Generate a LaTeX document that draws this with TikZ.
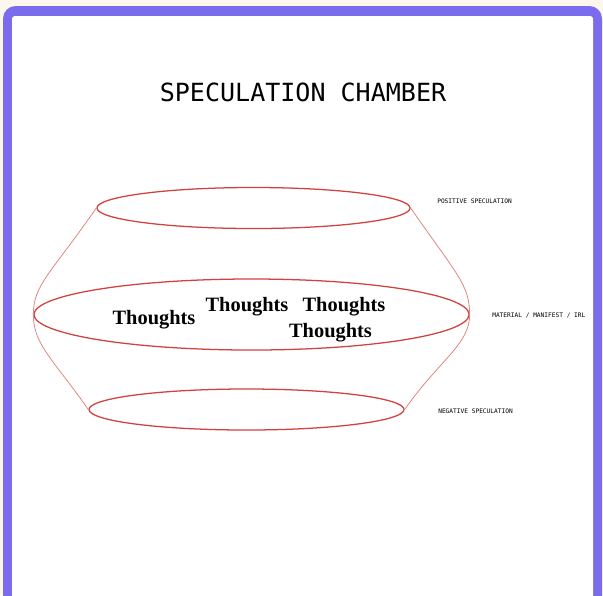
\documentclass[tikz,border=0pt]{standalone}
\usepackage{fontspec}
\usepackage{xcolor}
\usetikzlibrary{positioning,shapes.geometric}
\newfontfamily\chambermono{DejaVu Sans Mono}
\newfontfamily\chamberserif{Liberation Serif}
\definecolor{framepurple}{HTML}{7B6CEE}
\definecolor{paper}{HTML}{FCF7EC}
\definecolor{chamberred}{HTML}{D0413F}

\begin{document}
\begin{tikzpicture}[x=0.025cm,y=-0.025cm,
    ring/.style={ellipse,draw=chamberred,line width=0.9pt,inner sep=0pt},
    side/.style={draw=chamberred!65,line width=0.55pt},
    tag/.style={font=\chambermono\fontsize{4.4}{5}\selectfont,anchor=west,inner sep=0pt},
    thought/.style={font=\chamberserif\bfseries\fontsize{14.5}{16}\selectfont,anchor=base,inner sep=0pt}]
  \useasboundingbox (0,0) rectangle (603,595);
  \clip (0,0) rectangle (603,595);
  % frame
  \fill[paper] (0,0) rectangle (603,595);
  \fill[framepurple,rounded corners=9] (3,6) rectangle (602,640);
  \fill[white,rounded corners=2] (12,16) rectangle (593,640);
  \node[font=\chambermono\fontsize{17.8}{20}\selectfont] (title) at (303,92) {SPECULATION CHAMBER};
  % the three levels
  \node[ring,minimum width=7.825cm,minimum height=1.025cm] (top) at (253.5,208) {};
  \node[ring,minimum width=10.875cm,minimum height=1.775cm] (mid) at (251.5,314.5) {};
  \node[ring,minimum width=7.875cm,minimum height=1.025cm] (bot) at (246.5,409.5) {};
  \draw[side] (top.west) .. controls +(-45,65) and +(0,-30) .. (mid.west)
              .. controls +(0,30) and +(-35,-50) .. (bot.west);
  \draw[side] (top.east) .. controls +(45,65) and +(0,-30) .. (mid.east)
              .. controls +(0,30) and +(35,-50) .. (bot.east);
  \node[tag] (pos) at (437,201) {POSITIVE SPECULATION};
  \node[tag] (irl) at (492,315) {MATERIAL / MANIFEST / IRL};
  \node[tag] (neg) at (438,411) {NEGATIVE SPECULATION};
  % thoughts
  \node[thought] (t1) at (154,324) {Thoughts};
  \node[thought] (t2) at (247,311) {Thoughts};
  \node[thought] (t3) at (344,311) {Thoughts};
  \node[thought] (t4) at (330.5,337) {Thoughts};
\end{tikzpicture}
\end{document}
